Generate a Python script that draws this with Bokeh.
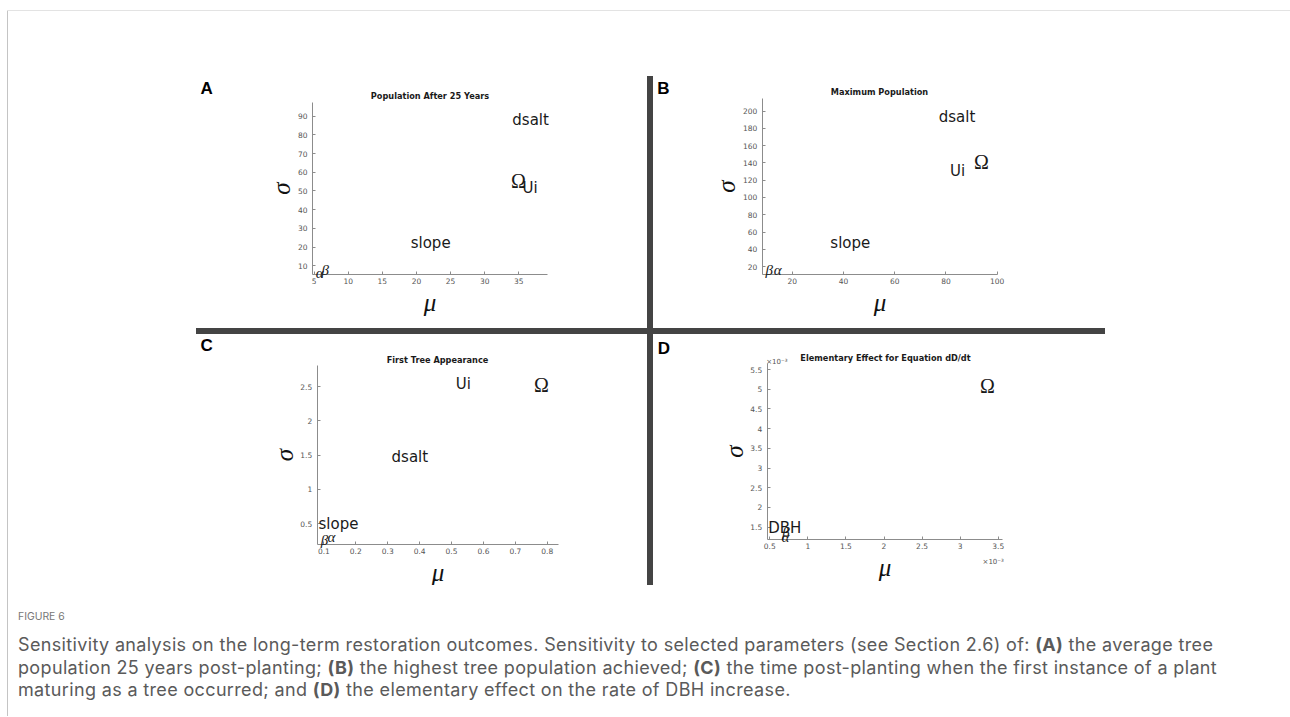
from bokeh.plotting import figure
from bokeh.models import (Range1d, FixedTicker, PrintfTickFormatter, LabelSet, Label,
                          ColumnDataSource, Div, Spacer, LinearAxis)
from bokeh.layouts import row, column
from bokeh.core.properties import value
from bokeh.embed import file_html
from bokeh.resources import INLINE

# ---------------- data ----------------
A_title = "Population After 25 Years"
A_labels = ["dsalt", "Ω", "Ui", "slope", "α", "β"]
A_mu = [34.05, 33.85, 35.55, 19.16, 5.25, 6.1]
A_sigma = [87.7, 55.6, 51.7, 22.2, 6.4, 8.0]
A_xticks = [5, 10, 15, 20, 25, 30, 35]
A_yticks = [10, 20, 30, 40, 50, 60, 70, 80, 90]

B_title = "Maximum Population"
B_labels = ["dsalt", "Ω", "Ui", "slope", "β", "α"]
B_mu = [77.2, 90.9, 81.6, 34.9, 9.6, 12.8]
B_sigma = [193.0, 141.6, 130.5, 46.7, 15.4, 15.4]
B_xticks = [20, 40, 60, 80, 100]
B_yticks = [20, 40, 60, 80, 100, 120, 140, 160, 180, 200]

C_title = "First Tree Appearance"
C_labels = ["Ui", "Ω", "dsalt", "slope", "β", "α"]
C_mu = [0.513, 0.758, 0.312, 0.083, 0.09, 0.111]
C_sigma = [2.54, 2.528, 1.47, 0.49, 0.271, 0.305]
C_xticks = [0.1, 0.2, 0.3, 0.4, 0.5, 0.6, 0.7, 0.8]
C_yticks = [0.5, 1, 1.5, 2, 2.5]

D_title = "Elementary Effect for Equation dD/dt"
D_labels = ["Ω", "DBH", "β", "α"]
D_mu = [3.26, 0.48, 0.663, 0.654]        # x 10^-3
D_sigma = [5.09, 1.475, 1.366, 1.246]    # x 10^-3
D_xticks = [0.5, 1, 1.5, 2, 2.5, 3, 3.5]
D_yticks = [1.5, 2, 2.5, 3, 3.5, 4, 4.5, 5, 5.5]

CAPTION_HEAD = "FIGURE 6"
CAPTION_LINES = [
    "Sensitivity analysis on the long-term restoration outcomes. Sensitivity to selected parameters (see Section 2.6) of: <b>(A)</b> the average tree",
    "population 25 years post-planting; <b>(B)</b> the highest tree population achieved; <b>(C)</b> the time post-planting when the first instance of a plant",
    "maturing as a tree occurred; and <b>(D)</b> the elementary effect on the rate of DBH increase.",
]

# ---------------- layout geometry (page pixels) ----------------
GEOM = {
    "A": dict(fig=(196, 76, 451, 252), box=(312, 102, 547, 274.3), xlim=(4.77, 39.2), ylim=(5.2, 97.3),
              letter=(200, 88), title=(429.5, 95.5)),
    "B": dict(fig=(653, 76, 452, 252), box=(761.7, 98.3, 996.7, 274.3), xlim=(8.3, 100.0), ylim=(10.4, 214.4),
              letter=(656.7, 88.3), title=(879, 91.7)),
    "C": dict(fig=(196, 334, 451, 251), box=(316.7, 365, 558.3, 544.3), xlim=(0.079, 0.836), ylim=(0.194, 2.806),
              letter=(200, 344.5), title=(437, 359)),
    "D": dict(fig=(653, 334, 452, 251), box=(766.7, 363.3, 1002.3, 539.3), xlim=(0.466, 3.56), ylim=(1.18, 5.645),
              letter=(657.3, 348), title=(885, 357)),
}

AXIS_COL = "#8c8c8c"
TICK_COL = "#555555"
TEXT_COL = "#1a1a1a"
BAR_COL = "#444444"


def make_panel(key, title, labels, mu, sigma, xticks, yticks, x10=False):
    g = GEOM[key]
    fx, fy, fw, fh = g["fig"]
    L, T, R, B = g["box"]
    x0, x1 = g["xlim"]
    y0, y1 = g["ylim"]
    ppx = (R - L) / (x1 - x0)
    ppy = (B - T) / (y1 - y0)
    xs, xe = x0 - (L - fx) / ppx, x1 + (fx + fw - R) / ppx
    ys, ye = y0 - (fy + fh - B) / ppy, y1 + (T - fy) / ppy

    def px2x(px):
        return x0 + (px - L) / ppx

    def py2y(py):
        return y0 + (B - py) / ppy

    p = figure(width=fw, height=fh, output_backend="svg", toolbar_location=None,
               x_range=Range1d(xs, xe), y_range=Range1d(ys, ye),
               x_axis_location=None, y_axis_location=None, min_border=0)
    p.margin = (0, 0, 0, 0)
    p.background_fill_color = "white"
    p.border_fill_color = "white"
    p.outline_line_color = None
    p.grid.visible = False

    xax = LinearAxis(fixed_location=y0, bounds=(x0, x1), ticker=FixedTicker(ticks=xticks),
                     formatter=PrintfTickFormatter(format="%g"), axis_label="μ")
    yax = LinearAxis(fixed_location=x0, bounds=(y0, y1), ticker=FixedTicker(ticks=yticks),
                     formatter=PrintfTickFormatter(format="%g"), axis_label="σ")
    for ax in (xax, yax):
        ax.axis_line_color = AXIS_COL
        ax.axis_line_width = 1
        ax.major_tick_line_color = AXIS_COL
        ax.major_tick_in = 3
        ax.major_tick_out = 0
        ax.minor_tick_line_color = None
        ax.major_label_text_font = "DejaVu Sans"
        ax.major_label_text_font_size = "7.5px"
        ax.major_label_text_color = TICK_COL
        ax.axis_label_text_font = "Liberation Serif"
        ax.axis_label_text_font_style = "italic"
        ax.axis_label_text_font_size = "25px"
        ax.axis_label_text_color = "#111111"
    yax.major_label_standoff = 5
    xax.major_label_standoff = 3
    yax.axis_label_standoff = 0
    xax.axis_label_standoff = 2
    p.add_layout(xax, "below")
    p.add_layout(yax, "left")

    # text markers, grouped by font
    groups = {
        "word": dict(font="DejaVu Sans", size="15px", style="normal"),
        "omega": dict(font="Liberation Serif", size="20px", style="normal"),
        "greek": dict(font="Liberation Serif", size="15px", style="italic"),
    }

    def kind(t):
        if t == "Ω":
            return "omega"
        if t in ("α", "β"):
            return "greek"
        return "word"

    for grp, st in groups.items():
        idx = [i for i, t in enumerate(labels) if kind(t) == grp]
        if not idx:
            continue
        src = ColumnDataSource(dict(x=[mu[i] for i in idx], y=[sigma[i] for i in idx],
                                    t=[labels[i] for i in idx]))
        p.add_layout(LabelSet(x="x", y="y", text="t", source=src,
                              text_align="left", text_baseline="middle",
                              text_font=value(st["font"]), text_font_size=st["size"],
                              text_font_style=st["style"], text_color=TEXT_COL))

    lx, ly = g["letter"]
    p.add_layout(Label(x=px2x(lx), y=py2y(ly), text=key,
                       text_font="Liberation Sans", text_font_style="bold",
                       text_font_size="17px", text_color="black",
                       text_baseline="alphabetic", text_align="left"))
    tx, ty = g["title"]
    p.add_layout(Label(x=px2x(tx), y=py2y(ty), text=title,
                       text_font="DejaVu Sans", text_font_style="bold",
                       text_font_size="8.2px", text_color="#1a1a1a",
                       text_baseline="alphabetic", text_align="center"))
    if x10:
        p.add_layout(Label(x=px2x(L - 1), y=py2y(T - 1.5), text="×10⁻³",
                           text_font="DejaVu Sans", text_font_size="7px", text_color=TICK_COL,
                           text_baseline="alphabetic", text_align="left"))
        p.add_layout(Label(x=px2x(R + 1), y=py2y(B + 22.5), text="×10⁻³",
                           text_font="DejaVu Sans", text_font_size="7px", text_color=TICK_COL,
                           text_baseline="alphabetic", text_align="right"))
    return p


pA = make_panel("A", A_title, A_labels, A_mu, A_sigma, A_xticks, A_yticks)
pB = make_panel("B", B_title, B_labels, B_mu, B_sigma, B_xticks, B_yticks)
pC = make_panel("C", C_title, C_labels, C_mu, C_sigma, C_xticks, C_yticks)
pD = make_panel("D", D_title, D_labels, D_mu, D_sigma, D_xticks, D_yticks, x10=True)


def bar(w, h, color=BAR_COL):
    return Div(text="", width=w, height=h, margin=(0, 0, 0, 0),
               styles={"background-color": color})


def sp(w, h):
    return Spacer(width=w, height=h, margin=(0, 0, 0, 0))


caption_html = (
    '<div style="font-family:\'Inter\';margin:0;padding:0;">'
    '<div style="margin-top:24px;font-size:10.4px;line-height:16px;color:#777777;">' + CAPTION_HEAD + '</div>'
    '<div style="margin-top:9px;font-size:18px;letter-spacing:0.35px;line-height:22.5px;color:#5a5a5a;white-space:nowrap;">'
    + "<br>".join(CAPTION_LINES) + '</div></div>'
)
caption = Div(text=caption_html, width=1262, height=120, margin=(0, 0, 0, 0))

content = column(
    sp(1280, 65),
    row(sp(188, 252), pA, bar(6, 252), pB),
    row(sp(188, 6), bar(909, 6)),
    row(sp(188, 251), pC, bar(6, 251), pD),
    row(sp(10, 120), caption),
)
root = column(
    sp(1290, 10),
    row(sp(7, 1), bar(1283, 1, "#e3e3e3")),
    row(sp(7, 705), bar(1, 705, "#c4c4c4"), content),
)

open("out.html", "w").write(file_html(root, INLINE, "Figure 6"))
